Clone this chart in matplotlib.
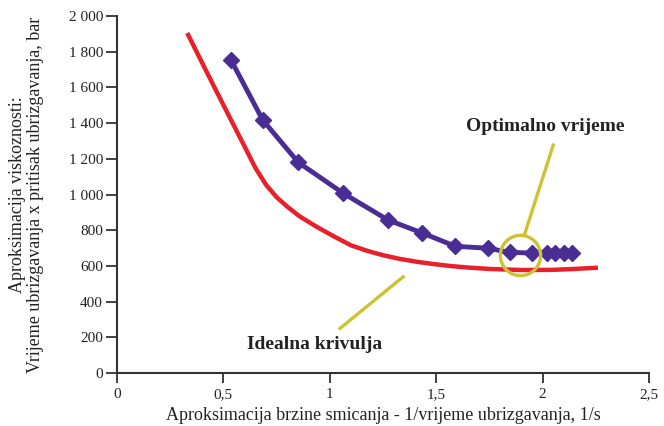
import matplotlib
matplotlib.use("Agg")
import matplotlib.pyplot as plt
from matplotlib.ticker import FuncFormatter

plt.rcParams['font.family'] = ['Liberation Serif', 'DejaVu Serif']

# measured curve (purple, with markers)
mjereno_x = [0.536, 0.685, 0.852, 1.063, 1.274, 1.431, 1.590, 1.743, 1.845,
             1.950, 2.020, 2.060, 2.100, 2.140]
mjereno_y = [1753, 1417, 1180, 1007, 857, 786, 710, 699, 676,
             672, 671, 671, 671, 671]

# ideal curve (red)
idealno_x = [0.33, 0.40, 0.47, 0.54, 0.60, 0.65, 0.70, 0.75, 0.80, 0.86,
             0.94, 1.02, 1.10, 1.18, 1.25, 1.33, 1.41, 1.49, 1.57, 1.66,
             1.75, 1.90, 2.05, 2.15, 2.26]
idealno_y = [1905, 1738, 1572, 1408, 1268, 1150, 1055, 985, 932, 876,
             818, 765, 715, 683, 660, 639, 623, 610, 599, 590,
             583, 577, 578, 583, 590]

x_ticks = [0, 0.5, 1, 1.5, 2, 2.5]
y_ticks = list(range(0, 2001, 200))

optimum = (1.894, 661)

fig = plt.figure(figsize=(6.64, 4.26), dpi=100)
ax = fig.add_axes([0.1762, 0.1244, 0.8012, 0.838])

ax.plot(idealno_x, idealno_y, color='#e8202a', lw=3.2, solid_capstyle='butt', zorder=2)
ax.plot(mjereno_x, mjereno_y, color='#4a2d94', lw=3.5, marker='D', ms=8,
        zorder=3)

# yellow circle round the optimum + pointer lines
ax.plot([optimum[0]], [optimum[1]], marker='o', ms=29, mfc='none',
        mec='#cdc232', mew=2.4, zorder=4)
ax.plot([2.05, 1.917], [1277, 783], color='#cdc232', lw=2.4, zorder=4)
ax.plot([1.345, 1.048], [539, 250], color='#cdc232', lw=2.4, zorder=4)

ax.text(2.011, 1380, 'Optimalno vrijeme', ha='center', va='center',
        fontsize=14, fontweight='bold', color='#222222')
ax.text(0.93, 157, 'Idealna krivulja', ha='center', va='center',
        fontsize=14, fontweight='bold', color='#222222')

ax.set_xlim(0, 2.5)
ax.set_ylim(0, 2000)
ax.set_xticks(x_ticks)
ax.set_yticks(y_ticks)
ax.xaxis.set_major_formatter(FuncFormatter(lambda v, p: ('%g' % v).replace('.', ',')))
ax.yaxis.set_major_formatter(FuncFormatter(lambda v, p: '{:,}'.format(int(v)).replace(',', ' ')))

for s in ['top', 'right']:
    ax.spines[s].set_visible(False)
for s in ['left', 'bottom']:
    ax.spines[s].set_color('#333333')
    ax.spines[s].set_linewidth(1.5)
ax.tick_params(direction='out', length=8, width=1.3, color='#333333',
               labelsize=11, labelcolor='#222222', pad=2)
ax.tick_params(axis='x', length=7, pad=4)

ax.set_xlabel('Aproksimacija brzine smicanja - 1/vrijeme ubrizgavanja, 1/s',
              fontsize=13, color='#222222', labelpad=4)
ax.set_ylabel('Aproksimacija viskoznosti:\nVrijeme ubrizgavanja x pritisak ubrizgavanja, bar',
              fontsize=13, color='#222222', labelpad=18, linespacing=1.05)

fig.savefig('out.png', dpi=100)
